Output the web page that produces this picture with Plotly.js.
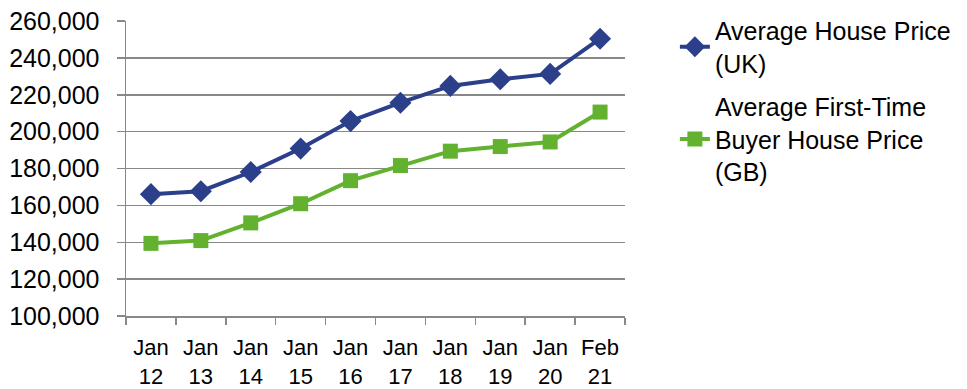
<!DOCTYPE html>
<html>
<head>
<meta charset="utf-8">
<script src="https://cdn.plot.ly/plotly-3.0.1.min.js"></script>
<style>html,body{margin:0;padding:0;background:#fff;}#chart{width:967px;height:389px;}</style>
</head>
<body>
<div id="chart"></div>
<script>
const categories = ["Jan<br>12","Jan<br>13","Jan<br>14","Jan<br>15","Jan<br>16","Jan<br>17","Jan<br>18","Jan<br>19","Jan<br>20","Feb<br>21"];
const ukPrices = [166100, 167700, 178100, 190800, 205700, 215700, 224800, 228400, 231300, 250400];
const gbFtbPrices = [139400, 140900, 150500, 160900, 173400, 181600, 189400, 191900, 194400, 210600];
const seriesNames = ["Average House Price<br>(UK)", "Average First-Time<br>Buyer House Price<br>(GB)"];
const yTicks = [100000,120000,140000,160000,180000,200000,220000,240000,260000];

const traces = [
  {x: categories, y: ukPrices, name: seriesNames[0], legendgroup: "uk", type: "scatter", mode: "lines+markers",
   line: {color: "#2B3F8A", width: 4}, marker: {symbol: "diamond", size: 17, color: "#2B3F8A"}},
  {x: categories, y: gbFtbPrices, name: seriesNames[1], legendgroup: "gb", type: "scatter", mode: "lines+markers",
   line: {color: "#62B22F", width: 4}, marker: {symbol: "square", size: 15, color: "#62B22F"}}
];

const layout = {
  width: 967, height: 389,
  margin: {l: 126, r: 342, t: 21, b: 73, autoexpand: false},
  paper_bgcolor: "#fff", plot_bgcolor: "#fff",
  font: {family: "Liberation Sans, Arial, sans-serif", size: 25, color: "#000"},
  showlegend: true,
  legend: {x: 1.1, xanchor: "left", y: 1.045, yanchor: "top", font: {size: 25}, tracegroupgap: 8,
    itemwidth: 30},
  xaxis: {type: "category", range: [-0.5, 9.5], showgrid: false, showline: true, linecolor: "#888", linewidth: 1.5,
    ticks: "outside", ticklen: 7, tickcolor: "#888", tickwidth: 1.5, tickson: "boundaries",
    tickangle: 0, automargin: false, ticklabelstandoff: 11, tickfont: {size: 22}, fixedrange: true},
  yaxis: {range: [100000, 260000], tickvals: yTicks, ticktext: yTicks.map(v => v.toLocaleString("en-GB")),
    showgrid: true, gridcolor: "#888", gridwidth: 1.5, showline: true, linecolor: "#888", linewidth: 1.5,
    ticks: "outside", ticklen: 8, tickcolor: "#888", tickwidth: 1.5, zeroline: false, automargin: false,
    ticklabelstandoff: 12, tickfont: {size: 25}, fixedrange: true}
};

Plotly.newPlot("chart", traces, layout, {displayModeBar: false, staticPlot: true});
</script>
</body>
</html>
